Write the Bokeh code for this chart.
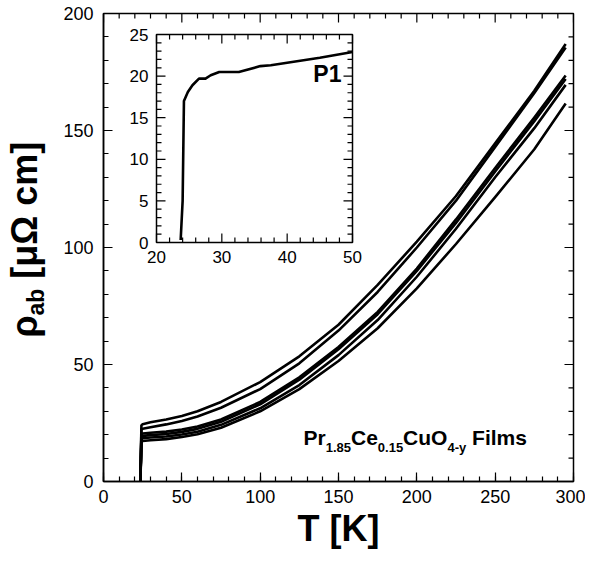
import math
from bokeh.plotting import figure
from bokeh.layouts import row
from bokeh.models import Range1d, Label, FixedTicker
from bokeh.embed import file_html
from bokeh.resources import INLINE
from bokeh.core.properties import value

# ---------------- data ----------------
T_main = [23.5, 23.9, 24.2, 25, 30, 40, 50, 60, 75, 100, 125, 150, 175, 200, 225, 250, 275, 295]
rho_A = [0, 12, 24.0, 24.5, 25.3, 26.5, 28.0, 30.0, 34.0, 42.5, 53.5, 67.0, 84.0, 102.5, 122.0, 144.5, 167.0, 187.0]
rho_B = [0, 11, 22.3, 22.5, 23.2, 24.4, 25.9, 27.8, 31.5, 39.5, 50.5, 64.5, 81.0, 100.0, 120.0, 143.0, 166.0, 185.5]
rho_C = [0, 10, 20.3, 20.5, 20.8, 21.3, 22.2, 23.5, 26.5, 34.0, 44.5, 57.5, 72.5, 91.0, 112.0, 134.0, 155.5, 173.5]
rho_D = [0, 10, 19.3, 19.5, 19.8, 20.3, 21.2, 22.5, 25.5, 33.0, 43.5, 56.5, 71.5, 90.0, 110.5, 132.5, 154.0, 172.0]
rho_E = [0, 9, 18.3, 18.5, 18.8, 19.2, 20.1, 21.3, 24.2, 31.3, 41.2, 54.0, 69.0, 87.5, 108.0, 130.0, 151.0, 169.5]
rho_F = [0, 8, 17.1, 17.3, 17.6, 18.1, 19.0, 20.2, 23.0, 30.0, 39.5, 51.5, 65.5, 82.5, 101.5, 121.5, 142.0, 161.5]
curves = [rho_A, rho_B, rho_C, rho_D, rho_E, rho_F]

T_P1 = [23.7, 24.0, 24.2, 24.8, 25.5, 26.5, 27.5, 28.3, 29.6, 32.6, 35.9, 37.5, 40.0, 45.0, 50.0]
rho_P1 = [0.3, 5.0, 17.0, 18.1, 18.9, 19.7, 19.7, 20.1, 20.5, 20.5, 21.2, 21.3, 21.6, 22.2, 22.9]

x_major = [0, 50, 100, 150, 200, 250, 300]
x_minor = list(range(0, 301, 10))
y_major = [0, 50, 100, 150, 200]
y_minor = list(range(0, 201, 10))

ix_major = [20, 30, 40, 50]
ix_minor = list(range(20, 51, 2))
iy_major = [0, 5, 10, 15, 20, 25]
iy_minor = list(range(0, 26, 1))

# ---------------- layout (page pixel coords) ----------------
CANVAS_W, CANVAS_H = 585, 560
LAB_W = 50  # width of the strip that holds the rotated y title
FRAME_L, FRAME_R, FRAME_T, FRAME_B = 103, 573, 13, 481
IN_L, IN_R, IN_T, IN_B = 156, 352, 34, 242
XMIN, XMAX, YMIN, YMAX = 0, 300, 0, 200
IXMIN, IXMAX, IYMIN, IYMAX = 20, 50, 0, 25
K_BASE = 0.45  # empirical baseline offset (fraction of font size) of rendered text

sx = (XMAX - XMIN) / (FRAME_R - FRAME_L)
sy = (YMAX - YMIN) / (FRAME_B - FRAME_T)


def dx(px):
    return XMIN + (px - FRAME_L) * sx


def dy(py):
    return YMIN + (FRAME_B - py) * sy


FONT = "Liberation Sans"

p = figure(frame_width=FRAME_R - FRAME_L, frame_height=FRAME_B - FRAME_T,
           x_range=Range1d(XMIN, XMAX), y_range=Range1d(YMIN, YMAX),
           output_backend="svg", toolbar_location=None,
           min_border_left=FRAME_L - LAB_W, min_border_right=CANVAS_W - FRAME_R,
           min_border_top=FRAME_T, min_border_bottom=CANVAS_H - FRAME_B)
p.grid.visible = False
p.outline_line_color = "black"
p.outline_line_width = 1.5
p.background_fill_color = "white"
p.border_fill_color = "white"

# inset ranges mapped so that inset box occupies its sub-region of the frame
isx = (IXMAX - IXMIN) / (IN_R - IN_L)
isy = (IYMAX - IYMIN) / (IN_B - IN_T)
p.extra_x_ranges = {"ix": Range1d(IXMIN - (IN_L - FRAME_L) * isx, IXMAX + (FRAME_R - IN_R) * isx)}
p.extra_y_ranges = {"iy": Range1d(IYMIN - (FRAME_B - IN_B) * isy, IYMAX + (IN_T - FRAME_T) * isy)}

for ax in (p.xaxis[0], p.yaxis[0]):
    ax.axis_line_width = 1.5
    ax.major_tick_in = 9
    ax.major_tick_out = 0
    ax.minor_tick_in = 5
    ax.minor_tick_out = 0
    ax.major_tick_line_width = 1.2
    ax.minor_tick_line_width = 1.2
    ax.major_label_text_font = FONT
    ax.major_label_text_font_size = "18px"
    ax.major_label_text_color = "black"
p.xaxis.ticker = FixedTicker(ticks=x_major, minor_ticks=x_minor)
p.yaxis.ticker = FixedTicker(ticks=y_major, minor_ticks=y_minor)
p.xaxis.major_label_standoff = 8
p.yaxis.major_label_standoff = 10
p.xaxis.axis_label = "T [K]"
p.xaxis.axis_label_text_font = FONT
p.xaxis.axis_label_text_font_size = "36px"
p.xaxis.axis_label_text_font_style = "bold"
p.xaxis.axis_label_text_color = "black"
p.xaxis.axis_label_standoff = 2

# top / right ticks of the main frame
mk = dict(line_color="black", line_width=1.2, length_units="screen")
xmn = [t for t in x_minor if t not in x_major]
ymn = [t for t in y_minor if t not in y_major]
p.ray(x=x_major, y=[YMAX] * len(x_major), length=9, angle=-math.pi / 2, **mk)
p.ray(x=xmn, y=[YMAX] * len(xmn), length=5, angle=-math.pi / 2, **mk)
p.ray(x=[XMAX] * len(y_major), y=y_major, length=9, angle=math.pi, **mk)
p.ray(x=[XMAX] * len(ymn), y=ymn, length=5, angle=math.pi, **mk)

# main curves
for rho in curves:
    p.line(T_main, rho, line_color="black", line_width=2.6, line_join="round")

# inset box
p.quad(left=[IXMIN], right=[IXMAX], bottom=[IYMIN], top=[IYMAX], fill_color="white",
       line_color="black", line_width=1.5, x_range_name="ix", y_range_name="iy")

# inset ticks (screen-length rays)
kw = dict(x_range_name="ix", y_range_name="iy", line_color="black", line_width=1.2, length_units="screen")
xm = [t for t in ix_minor if t not in ix_major]
ym = [t for t in iy_minor if t not in iy_major]
p.ray(x=ix_major, y=[IYMIN] * len(ix_major), length=9, angle=math.pi / 2, **kw)
p.ray(x=xm, y=[IYMIN] * len(xm), length=5, angle=math.pi / 2, **kw)
p.ray(x=ix_major, y=[IYMAX] * len(ix_major), length=9, angle=-math.pi / 2, **kw)
p.ray(x=xm, y=[IYMAX] * len(xm), length=5, angle=-math.pi / 2, **kw)
p.ray(x=[IXMIN] * len(iy_major), y=iy_major, length=9, angle=0, **kw)
p.ray(x=[IXMIN] * len(ym), y=ym, length=5, angle=0, **kw)
p.ray(x=[IXMAX] * len(iy_major), y=iy_major, length=9, angle=math.pi, **kw)
p.ray(x=[IXMAX] * len(ym), y=ym, length=5, angle=math.pi, **kw)

# inset tick labels
p.text(x=ix_major, y=[IYMIN] * len(ix_major), text=[str(v) for v in ix_major],
       x_range_name="ix", y_range_name="iy", text_font=value(FONT), text_font_size="17px",
       text_align="center", text_baseline="top", y_offset=8, text_color="black")
p.text(x=[IXMIN] * len(iy_major), y=iy_major, text=[str(v) for v in iy_major],
       x_range_name="ix", y_range_name="iy", text_font=value(FONT), text_font_size="17px",
       text_align="right", text_baseline="middle", x_offset=-8, text_color="black")

# inset curve
p.line(T_P1, rho_P1, line_color="black", line_width=2.6, line_join="round",
       x_range_name="ix", y_range_name="iy")
p.text(x=[44.0], y=[20.2], text=["P1"], x_range_name="ix", y_range_name="iy",
       text_font=value(FONT), text_font_size="23px", text_font_style="bold",
       text_align="left", text_baseline="middle", text_color="black")

# ---------------- composed texts ----------------
W = {"P": .667, "r": .389, "1": .556, ".": .278, "8": .556, "5": .556, "C": .722, "e": .556,
     "0": .556, "u": .611, "O": .778, "4": .556, "-": .333, "y": .556, " ": .278, "F": .611,
     "i": .278, "l": .278, "m": .889, "s": .556, "ρ": .61, "a": .556, "b": .611, "[": .333,
     "μ": .611, "Ω": .768, "c": .556, "]": .333}


def width(s, size):
    return sum(W.get(ch, .6) for ch in s) * size


# formula label (pieces: text, font px, baseline drop px, extra gap before px)
pieces = [("Pr", 21, 0, 0), ("1.85", 13, 7, 0), ("Ce", 21, 0, 0), ("0.15", 13, 7, 0),
          ("CuO", 21, 0, 0), ("4-y", 13, 7, 0), ("Films", 21, 0, width(" ", 21))]
px0, base = 303, 446
for txt, size, drop, gap in pieces:
    px0 += gap
    p.add_layout(Label(x=dx(px0), y=dy(base + drop - K_BASE * size), text=txt, text_font=FONT,
                       text_font_size=f"{size}px", text_font_style="bold",
                       text_align="left", text_baseline="alphabetic", text_color="black"))
    px0 += width(txt, size)

# ---------------- y title strip (same vertical frame as the main plot) ----------------
q = figure(frame_width=LAB_W, frame_height=FRAME_B - FRAME_T,
           x_range=Range1d(0, LAB_W), y_range=Range1d(YMIN, YMAX),
           output_backend="svg", toolbar_location=None, x_axis_type=None, y_axis_type=None,
           min_border_left=0, min_border_right=0,
           min_border_top=FRAME_T, min_border_bottom=CANVAS_H - FRAME_B)
q.grid.visible = False
q.outline_line_color = None
q.background_fill_color = "white"
q.border_fill_color = "white"

ylab = [("ρ", 36, 0, 0), ("ab", 23, 6, 0), ("[μΩ cm]", 36, 0, width(" ", 36))]
py0, basex = 337, 40
for txt, size, drop, gap in ylab:
    py0 -= gap
    q.text(x=[basex + drop - K_BASE * size], y=[dy(py0)], text=[txt], text_font=value(FONT),
           text_font_size=f"{size}px", text_font_style="bold", angle=math.pi / 2,
           text_align="left", text_baseline="alphabetic", text_color="black")
    py0 -= width(txt, size)

layout = row(q, p, spacing=0)
open("out.html", "w").write(file_html(layout, INLINE))
